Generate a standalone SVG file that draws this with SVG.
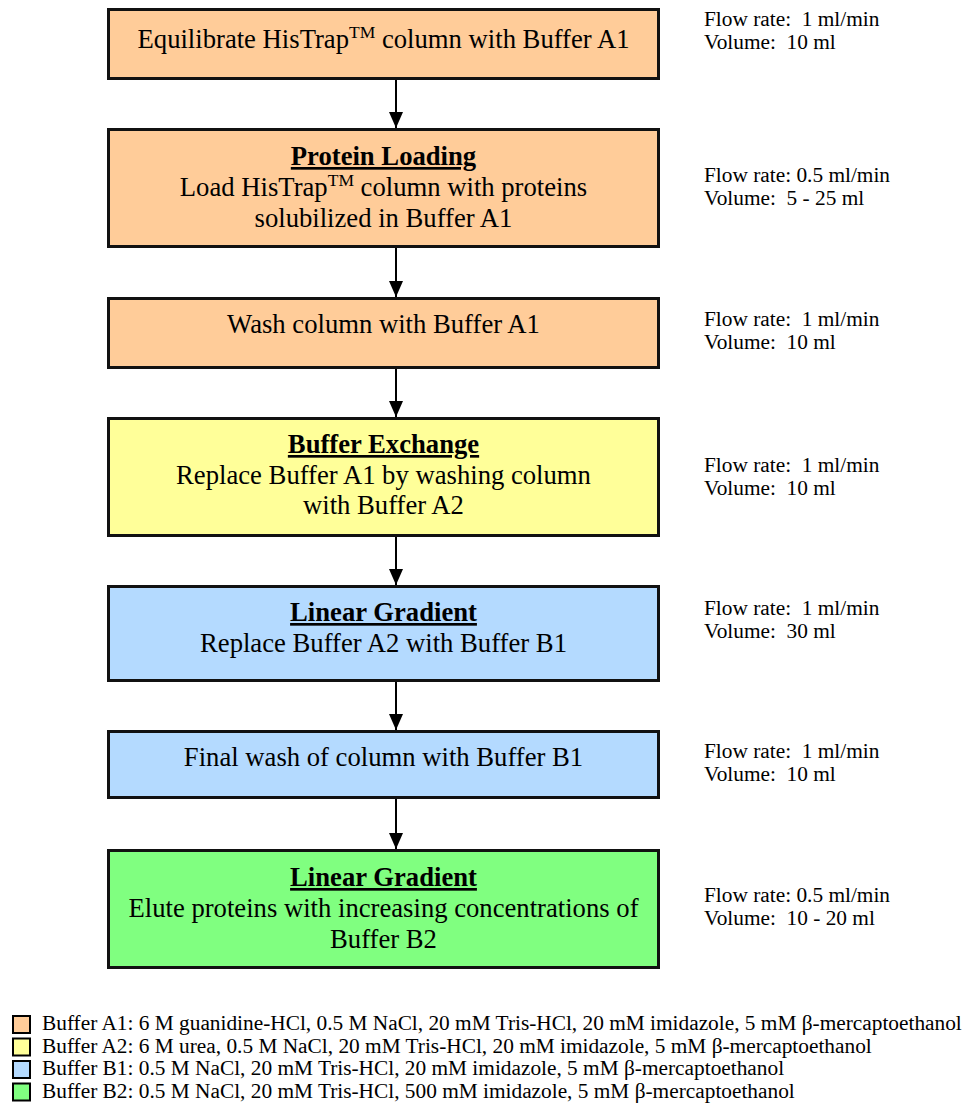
<svg xmlns="http://www.w3.org/2000/svg" width="970" height="1108" viewBox="0 0 970 1108">
<defs>
<style>
.box{stroke:#111;stroke-width:3}
.orange{fill:#FFCC99}
.yellow{fill:#FFFF99}
.blue{fill:#B4DAFF}
.green{fill:#80FF80}
.t{font-family:"Liberation Serif","Times New Roman",serif;font-size:26.67px;fill:#000;text-anchor:middle}
.h{font-weight:bold;text-decoration:underline}
.s{font-family:"Liberation Serif","Times New Roman",serif;font-size:21.33px;fill:#000;white-space:pre}
.sup{font-size:17.5px}
.conn{stroke:#000;stroke-width:2;fill:none}
.leg{stroke:#000;stroke-width:2}
</style>
<marker id="ah" markerUnits="userSpaceOnUse" viewBox="0 0 16 14" markerWidth="16" markerHeight="14" refX="16" refY="7" orient="auto">
<path d="M0,0 L16,7 L0,14 z" fill="#000"/>
</marker>
</defs>
<rect width="970" height="1108" fill="#fff"/>

<g id="connectors">
<line class="conn" x1="396" y1="80" x2="396" y2="128" marker-end="url(#ah)"/>
<line class="conn" x1="396" y1="248" x2="396" y2="297" marker-end="url(#ah)"/>
<line class="conn" x1="396" y1="369" x2="396" y2="417" marker-end="url(#ah)"/>
<line class="conn" x1="396" y1="537" x2="396" y2="585" marker-end="url(#ah)"/>
<line class="conn" x1="396" y1="682" x2="396" y2="730" marker-end="url(#ah)"/>
<line class="conn" x1="396" y1="799" x2="396" y2="849" marker-end="url(#ah)"/>
</g>

<g id="step1">
<rect class="box orange" x="108.5" y="9.5" width="550" height="69"/>
<text class="t" x="383.5" y="48">Equilibrate HisTrap<tspan class="sup" dy="-10">TM</tspan><tspan dy="10"> column with Buffer A1</tspan></text>
</g>
<g id="step1-info">
<text class="s" x="704" y="26" xml:space="preserve">Flow rate:  1 ml/min</text>
<text class="s" x="704" y="48.5" xml:space="preserve">Volume:  10 ml</text>
</g>

<g id="step2">
<rect class="box orange" x="108.5" y="129.5" width="550" height="117"/>
<text class="t h" x="383.5" y="165">Protein Loading</text>
<text class="t" x="383.5" y="196">Load HisTrap<tspan class="sup" dy="-10">TM</tspan><tspan dy="10"> column with proteins</tspan></text>
<text class="t" x="383.5" y="227">solubilized in Buffer A1</text>
</g>
<g id="step2-info">
<text class="s" x="704" y="182" xml:space="preserve">Flow rate: 0.5 ml/min</text>
<text class="s" x="704" y="205" xml:space="preserve">Volume:  5 - 25 ml</text>
</g>

<g id="step3">
<rect class="box orange" x="108.5" y="298.5" width="550" height="69"/>
<text class="t" x="383.5" y="333">Wash column with Buffer A1</text>
</g>
<g id="step3-info">
<text class="s" x="704" y="326" xml:space="preserve">Flow rate:  1 ml/min</text>
<text class="s" x="704" y="349" xml:space="preserve">Volume:  10 ml</text>
</g>

<g id="step4">
<rect class="box yellow" x="108.5" y="418.5" width="550" height="117"/>
<text class="t h" x="383.5" y="453">Buffer Exchange</text>
<text class="t" x="383.5" y="483.5">Replace Buffer A1 by washing column</text>
<text class="t" x="383.5" y="514">with Buffer A2</text>
</g>
<g id="step4-info">
<text class="s" x="704" y="472" xml:space="preserve">Flow rate:  1 ml/min</text>
<text class="s" x="704" y="494.5" xml:space="preserve">Volume:  10 ml</text>
</g>

<g id="step5">
<rect class="box blue" x="108.5" y="586.5" width="550" height="94"/>
<text class="t h" x="383.5" y="621">Linear Gradient</text>
<text class="t" x="383.5" y="652">Replace Buffer A2 with Buffer B1</text>
</g>
<g id="step5-info">
<text class="s" x="704" y="615" xml:space="preserve">Flow rate:  1 ml/min</text>
<text class="s" x="704" y="638" xml:space="preserve">Volume:  30 ml</text>
</g>

<g id="step6">
<rect class="box blue" x="108.5" y="731.5" width="550" height="66"/>
<text class="t" x="383.5" y="766">Final wash of column with Buffer B1</text>
</g>
<g id="step6-info">
<text class="s" x="704" y="758" xml:space="preserve">Flow rate:  1 ml/min</text>
<text class="s" x="704" y="781" xml:space="preserve">Volume:  10 ml</text>
</g>

<g id="step7">
<rect class="box green" x="108.5" y="850.5" width="550" height="117"/>
<text class="t h" x="383.5" y="886">Linear Gradient</text>
<text class="t" x="383.5" y="916.5">Elute proteins with increasing concentrations of</text>
<text class="t" x="383.5" y="948">Buffer B2</text>
</g>
<g id="step7-info">
<text class="s" x="704" y="902" xml:space="preserve">Flow rate: 0.5 ml/min</text>
<text class="s" x="704" y="925" xml:space="preserve">Volume:  10 - 20 ml</text>
</g>

<g id="legend">
<rect class="leg orange" x="13" y="1016" width="17" height="17"/>
<text class="s" x="42" y="1030">Buffer A1: 6 M guanidine-HCl, 0.5 M NaCl, 20 mM Tris-HCl, 20 mM imidazole, 5 mM β-mercaptoethanol</text>
<rect class="leg yellow" x="13" y="1038.5" width="17" height="17"/>
<text class="s" x="42" y="1052.5">Buffer A2: 6 M urea, 0.5 M NaCl, 20 mM Tris-HCl, 20 mM imidazole, 5 mM β-mercaptoethanol</text>
<rect class="leg blue" x="13" y="1061" width="17" height="17"/>
<text class="s" x="42" y="1075">Buffer B1: 0.5 M NaCl, 20 mM Tris-HCl, 20 mM imidazole, 5 mM β-mercaptoethanol</text>
<rect class="leg green" x="13" y="1083.5" width="17" height="17"/>
<text class="s" x="42" y="1097.5">Buffer B2: 0.5 M NaCl, 20 mM Tris-HCl, 500 mM imidazole, 5 mM β-mercaptoethanol</text>
</g>
</svg>
